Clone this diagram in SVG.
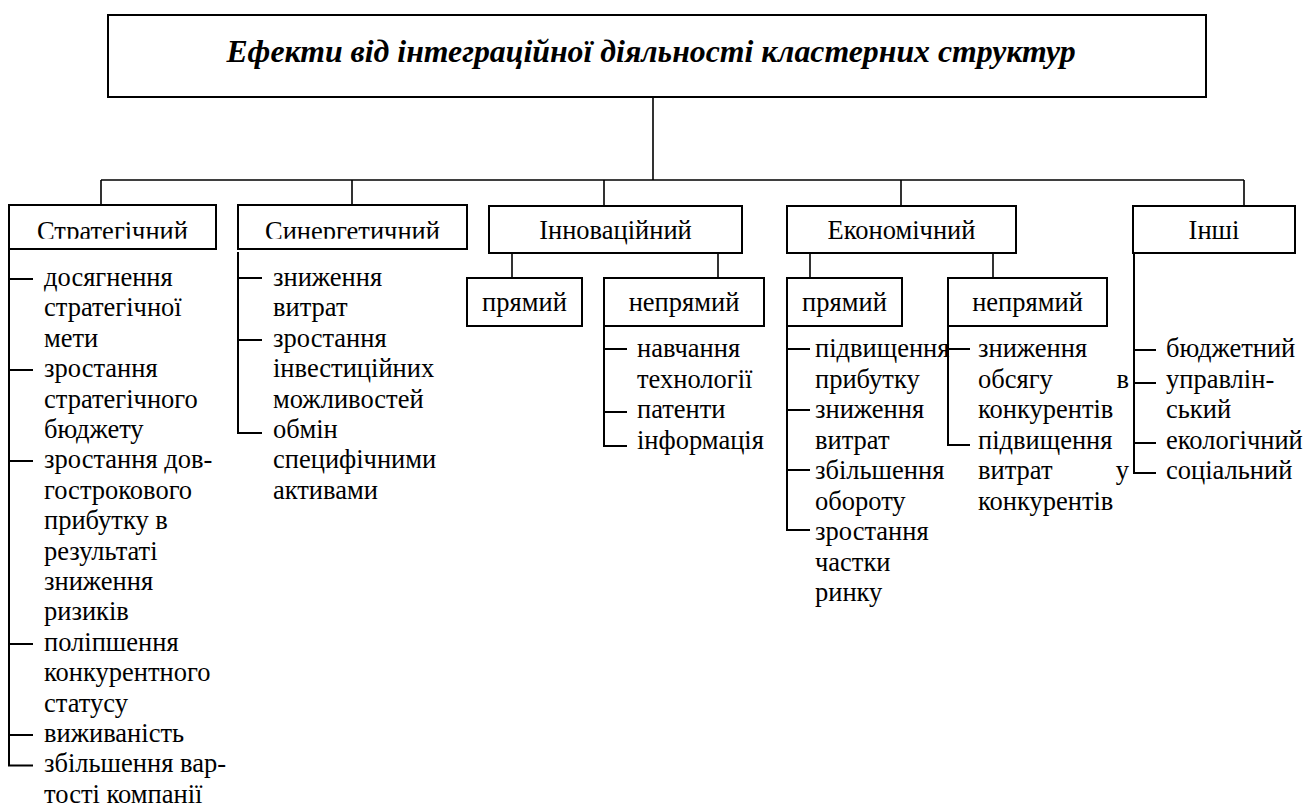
<svg xmlns="http://www.w3.org/2000/svg" width="1314" height="810" viewBox="0 0 1314 810">
<style>
.box{fill:#fff;stroke:#000;stroke-width:2}
.ln{fill:none;stroke:#000;stroke-width:2}
.cn{fill:none;stroke:#000;stroke-width:1.6}
.t{font-family:"Liberation Serif","Times New Roman",Tinos,"DejaVu Serif",serif;font-size:26.5px;fill:#000}
.c{text-anchor:middle}
.e{text-anchor:end}
.title{font-family:"Liberation Serif","Times New Roman",Tinos,"DejaVu Serif",serif;font-size:31.8px;font-weight:bold;font-style:italic;fill:#000;text-anchor:middle}
</style>
<defs>
<clipPath id="clipTop"><rect x="0" y="200" width="1314" height="38.8"/></clipPath>
</defs>
<rect width="1314" height="810" fill="#fff"/>
<g id="connectors">
<path class="cn" d="M653 97V180M101 180H1244M101 180V205M352 180V205M604 180V206M901 180V206M1244 180V206"/>
<path class="cn" d="M512 253V278M718 253V278M810 253V278M993 253V278"/>
<path class="ln" d="M9 249V765.4H33M9 279H33M9 370H33M9 461H33M9 644H33M9 735H33"/>
<path class="ln" d="M238 252V433H262M238 278H262M238 340H262"/>
<path class="ln" d="M604 326V446H627M604 349H627M604 412H627"/>
<path class="ln" d="M787 326V530H810M787 349H810M787 410H810M787 470H810"/>
<path class="ln" d="M948 326V445H970M948 349H970"/>
<path class="ln" d="M1134 253V473H1156M1134 350H1156M1134 383H1156M1134 443H1156"/>
</g>
<g id="title">
<rect class="box" x="108" y="15" width="1098" height="82"/>
<text class="title" x="651" y="62">Ефекти від інтеграційної діяльності кластерних структур</text>
</g>
<g id="strategic">
<rect class="box" x="9" y="205" width="207" height="44"/>
<text class="t c" x="112.5" y="239.5" clip-path="url(#clipTop)">Стратегічний</text>
<text class="t" x="44">
<tspan x="44" y="286">досягнення</tspan>
<tspan x="44" y="316.4">стратегічної</tspan>
<tspan x="44" y="346.8">мети</tspan>
<tspan x="44" y="377.2">зростання</tspan>
<tspan x="44" y="407.6">стратегічного</tspan>
<tspan x="44" y="438">бюджету</tspan>
<tspan x="44" y="468.4">зростання дов-</tspan>
<tspan x="44" y="498.8">гострокового</tspan>
<tspan x="44" y="529.2">прибутку в</tspan>
<tspan x="44" y="559.6">результаті</tspan>
<tspan x="44" y="590">зниження</tspan>
<tspan x="44" y="620.4">ризиків</tspan>
<tspan x="44" y="650.8">поліпшення</tspan>
<tspan x="44" y="681.2">конкурентного</tspan>
<tspan x="44" y="711.6">статусу</tspan>
<tspan x="44" y="742">виживаність</tspan>
<tspan x="44" y="772.4">збільшення вар-</tspan>
<tspan x="44" y="802.8">тості компанії</tspan>
</text>
</g>
<g id="synergetic">
<rect class="box" x="238" y="205" width="229" height="44"/>
<text class="t c" x="352.5" y="239.5" clip-path="url(#clipTop)">Синергетичний</text>
<text class="t" x="273">
<tspan x="273" y="286">зниження</tspan>
<tspan x="273" y="316.4">витрат</tspan>
<tspan x="273" y="346.8">зростання</tspan>
<tspan x="273" y="377.2">інвестиційних</tspan>
<tspan x="273" y="407.6">можливостей</tspan>
<tspan x="273" y="438">обмін</tspan>
<tspan x="273" y="468.4">специфічними</tspan>
<tspan x="273" y="498.8">активами</tspan>
</text>
</g>
<g id="innovative">
<rect class="box" x="489" y="206" width="253" height="47"/>
<text class="t c" x="615.5" y="239">Інноваційний</text>
</g>
<g id="innov-direct">
<rect class="box" x="467" y="278" width="115" height="48"/>
<text class="t c" x="524.5" y="310.5">прямий</text>
</g>
<g id="innov-indirect">
<rect class="box" x="604" y="278" width="160" height="48"/>
<text class="t c" x="684" y="310.5">непрямий</text>
<text class="t" x="637">
<tspan x="637" y="357">навчання</tspan>
<tspan x="637" y="387.5">технології</tspan>
<tspan x="637" y="418">патенти</tspan>
<tspan x="637" y="448.5">інформація</tspan>
</text>
</g>
<g id="economic">
<rect class="box" x="787" y="206" width="229" height="47"/>
<text class="t c" x="901.5" y="239">Економічний</text>
</g>
<g id="econ-direct">
<rect class="box" x="787" y="278" width="115" height="48"/>
<text class="t c" x="844.5" y="310.5">прямий</text>
<text class="t" x="815">
<tspan x="815" y="357">підвищення</tspan>
<tspan x="815" y="387.5">прибутку</tspan>
<tspan x="815" y="418">зниження</tspan>
<tspan x="815" y="448.5">витрат</tspan>
<tspan x="815" y="479">збільшення</tspan>
<tspan x="815" y="509.5">обороту</tspan>
<tspan x="815" y="540">зростання</tspan>
<tspan x="815" y="570.5">частки</tspan>
<tspan x="815" y="601">ринку</tspan>
</text>
</g>
<g id="econ-indirect">
<rect class="box" x="948" y="278" width="159" height="48"/>
<text class="t c" x="1027.5" y="310.5">непрямий</text>
<text class="t" x="978">
<tspan x="978" y="357">зниження</tspan>
<tspan x="978" y="387.5">обсягу</tspan>
<tspan x="978" y="418">конкурентів</tspan>
<tspan x="978" y="448.5">підвищення</tspan>
<tspan x="978" y="479">витрат</tspan>
<tspan x="978" y="509.5">конкурентів</tspan>
</text>
<text class="t e" x="1129" y="387.5">в</text>
<text class="t e" x="1129" y="479">у</text>
</g>
<g id="others">
<rect class="box" x="1133" y="206" width="162" height="47"/>
<text class="t c" x="1214" y="239">Інші</text>
<text class="t" x="1166">
<tspan x="1166" y="357">бюджетний</tspan>
<tspan x="1166" y="387.5">управлін-</tspan>
<tspan x="1166" y="418">ський</tspan>
<tspan x="1166" y="448.5">екологічний</tspan>
<tspan x="1166" y="479">соціальний</tspan>
</text>
</g>
</svg>
